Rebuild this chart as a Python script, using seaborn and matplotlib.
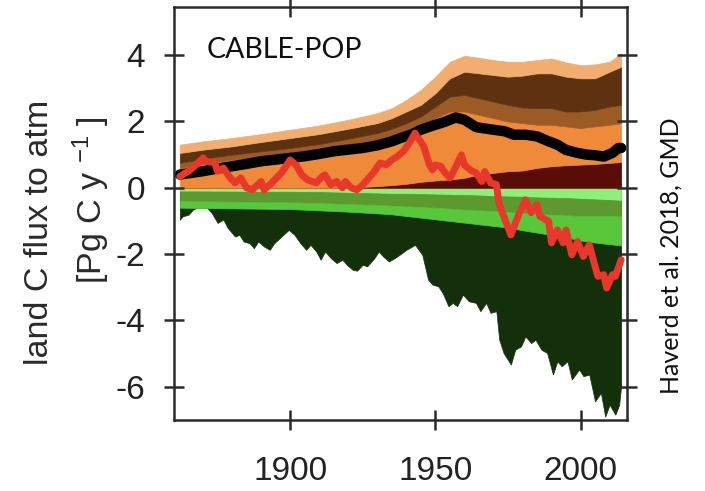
import numpy as np
import matplotlib
matplotlib.use("Agg")
import matplotlib.pyplot as plt
import seaborn as sns

# ---------------- data ----------------
years = [1862, 1870, 1880, 1890, 1900, 1910, 1920, 1930, 1935, 1940, 1945, 1950,
         1955, 1960, 1965, 1970, 1975, 1980, 1985, 1990, 1995, 2000, 2005, 2010, 2014]

# positive (source) layers, stacked from 0 upward
maroon = [0, 0, 0, 0, 0, 0, 0, 0.05, 0.08, 0.12, 0.18, 0.22, 0.25, 0.3, 0.4, 0.45,
          0.5, 0.52, 0.6, 0.65, 0.68, 0.7, 0.72, 0.75, 0.78]
orange = [0.6, 0.72, 0.85, 0.92, 1.0, 1.12, 1.3, 1.4, 1.5, 1.63, 1.72, 1.88, 2.05,
          2.0, 1.8, 1.65, 1.5, 1.43, 1.3, 1.25, 1.17, 1.1, 1.13, 1.15, 1.17]
med_brown = [0.15, 0.16, 0.15, 0.18, 0.2, 0.2, 0.18, 0.2, 0.2, 0.2, 0.25, 0.35, 0.45,
             0.5, 0.5, 0.5, 0.5, 0.47, 0.5, 0.5, 0.45, 0.5, 0.5, 0.55, 0.55]
dark_brown = [0.3, 0.27, 0.25, 0.28, 0.3, 0.3, 0.3, 0.3, 0.32, 0.35, 0.35, 0.4, 0.55,
              0.7, 0.75, 0.8, 0.85, 0.96, 1.05, 1.05, 1.05, 1.0, 0.95, 1.05, 1.15]
light_orange = [0.25, 0.25, 0.25, 0.24, 0.25, 0.26, 0.27, 0.3, 0.3, 0.35, 0.45, 0.5,
                0.5, 0.48, 0.47, 0.45, 0.45, 0.42, 0.4, 0.45, 0.43, 0.4, 0.42, 0.3, 0.4]

# sink layers (magnitudes), stacked from 0 downward
light_green = [0.11, 0.11, 0.115, 0.12, 0.12, 0.13, 0.15, 0.17, 0.18, 0.18, 0.19, 0.2,
               0.21, 0.22, 0.23, 0.25, 0.26, 0.27, 0.29, 0.3, 0.31, 0.33, 0.35, 0.37, 0.39]
olive_green = [0.29, 0.30, 0.305, 0.31, 0.32, 0.33, 0.34, 0.35, 0.36, 0.38, 0.39, 0.4,
               0.42, 0.44, 0.45, 0.45, 0.47, 0.49, 0.5, 0.51, 0.52, 0.52, 0.5, 0.48, 0.47]
bright_green = [0.2, 0.2, 0.2, 0.2, 0.2, 0.22, 0.23, 0.25, 0.26, 0.29, 0.32, 0.35, 0.37,
                0.39, 0.42, 0.45, 0.47, 0.52, 0.56, 0.61, 0.66, 0.74, 0.8, 0.85, 0.88]

# total sink (bottom of dark green area)
dg_years = [1862, 1863, 1865, 1866.5, 1868, 1870, 1871.5, 1873, 1875, 1877, 1878.5, 1881,
            1882.5, 1884, 1886, 1887.5, 1889, 1891, 1893, 1894.5, 1897, 1899.5, 1901.5,
            1903.5, 1905.5, 1907, 1909, 1910.5, 1912, 1914, 1916, 1918, 1919.5, 1921.5,
            1923, 1925, 1926.5, 1929, 1930.5, 1932, 1934, 1936, 1938, 1940, 1943,
            1945.5, 1947.5, 1949, 1951, 1952.5, 1954.5, 1956, 1957.5, 1959.5, 1961.5,
            1964, 1965.5, 1967.5, 1969, 1971, 1972, 1973.5, 1976, 1977.5, 1979.5, 1981,
            1983, 1984.5, 1986.5, 1988.5, 1990.5, 1992, 1993.5, 1995.5, 1997, 1999.5,
            2001, 2003, 2005, 2007, 2008.5, 2010, 2012, 2013.3, 2014]
dg_bottom = [-0.96, -0.86, -0.81, -0.66, -0.6, -0.6, -0.62, -0.76, -1.06, -0.96, -1.21,
             -1.47, -1.42, -1.62, -1.67, -1.82, -1.62, -1.77, -1.87, -1.67, -1.47, -1.27,
             -1.42, -1.67, -1.87, -1.72, -1.92, -2.17, -1.92, -2.12, -2.27, -2.17, -2.32,
             -2.47, -2.5, -2.32, -2.37, -2.12, -1.92, -2.07, -2.22, -2.12, -2.0, -1.87,
             -1.72, -2.02, -2.77, -2.92, -2.97, -3.17, -3.57, -3.47, -3.57, -3.22, -3.42,
             -3.47, -3.72, -3.47, -3.77, -3.72, -4.58, -4.98, -5.33, -4.88, -4.78, -4.48,
             -4.68, -4.58, -4.88, -4.98, -5.63, -5.23, -5.38, -5.23, -5.78, -5.48, -5.68,
             -5.63, -6.44, -6.18, -6.9, -6.54, -6.84, -6.54, -5.95]

# net flux (black line)
net_years = [1862, 1866, 1870, 1875, 1880, 1885, 1890, 1895, 1900, 1905, 1910, 1915,
             1920, 1925, 1930, 1935, 1938, 1942, 1945, 1949, 1953, 1957, 1960, 1964,
             1966, 1970, 1974, 1977, 1981, 1985, 1989, 1992, 1995, 1999, 2002, 2005,
             2008, 2011, 2013, 2014]
net_flux = [0.4, 0.45, 0.5, 0.58, 0.65, 0.72, 0.8, 0.85, 0.9, 0.95, 1.02, 1.1, 1.15,
            1.2, 1.28, 1.4, 1.5, 1.62, 1.75, 1.87, 1.98, 2.12, 2.05, 1.83, 1.8, 1.75,
            1.7, 1.6, 1.6, 1.55, 1.4, 1.3, 1.14, 1.05, 1.0, 0.98, 0.94, 1.05, 1.2, 1.2]

# residual flux (red line)
red_years = [1862, 1864, 1865, 1867, 1870, 1871, 1874, 1875, 1877, 1879, 1881, 1883,
             1885, 1887, 1890, 1891, 1893, 1897, 1900, 1902, 1904, 1906, 1909, 1911,
             1912, 1914, 1916, 1918, 1919, 1921, 1923, 1925, 1926, 1929, 1931, 1933,
             1935, 1937, 1939, 1941, 1943, 1944, 1945, 1946, 1948, 1949, 1950, 1952,
             1953, 1955, 1956, 1959, 1960, 1962, 1964, 1966, 1967, 1969, 1971, 1972,
             1974, 1976, 1978, 1979, 1981, 1983, 1985, 1986, 1989, 1990, 1992, 1994,
             1995, 1997, 1999, 2001, 2003, 2005, 2006, 2008, 2009, 2011, 2012, 2014]
red_flux = [0.34, 0.45, 0.5, 0.64, 0.9, 0.8, 0.75, 0.5, 0.6, 0.34, 0.15, 0.3, 0.0,
            -0.06, 0.19, -0.06, 0.09, 0.45, 0.84, 0.69, 0.39, 0.24, 0.15, 0.34, 0.39,
            0.09, 0.19, 0.0, 0.19, 0.0, -0.06, 0.09, 0.19, 0.49, 0.75, 0.69, 0.84, 0.95,
            1.1, 1.35, 1.65, 1.5, 1.39, 1.24, 0.69, 0.54, 0.69, 0.64, 0.49, 0.3, 0.45,
            0.99, 0.69, 0.54, 0.45, 0.19, 0.49, 0.15, 0.1, -0.5, -0.96, -1.42, -0.96,
            -0.75, -0.36, -0.75, -0.51, -0.86, -1.01, -1.66, -1.27, -1.66, -1.27, -2.02,
            -1.62, -2.07, -1.72, -2.37, -2.67, -2.62, -3.02, -2.62, -2.67, -2.17]

x_ticks = [1900, 1950, 2000]
y_ticks = [4, 2, 0, -2, -4, -6]

# ---------------- style ----------------
sns.set_theme(style="ticks")
plt.rcParams["font.family"] = ["Liberation Sans", "DejaVu Sans"]
plt.rcParams["mathtext.default"] = "regular"
plt.rcParams["axes.unicode_minus"] = False

c_pos = ["#5a0c07", "#ef8a3a", "#9c5a25", "#5e3210", "#f1ae70"]
c_neg = ["#8df07a", "#5c9a30", "#58c83a"]
c_dark = "#14300a"
ink = "#2b2b2b"

fig = plt.figure(figsize=(7.05, 4.91), dpi=100)
ax = fig.add_axes([174 / 705, 1 - 420 / 491, (627 - 174) / 705, (420 - 7) / 491])

# dark green total sink area
ax.fill_between(dg_years, 0, dg_bottom, color=c_dark, lw=0.5, edgecolor=c_dark, zorder=1)

# sink layers stacked downward
neg = ax.stackplot(years, -np.array(light_green), -np.array(olive_green),
                   -np.array(bright_green), colors=c_neg, zorder=2)
pos = ax.stackplot(years, maroon, orange, med_brown, dark_brown, light_orange,
                   colors=c_pos, zorder=2)
for p in list(neg) + list(pos):
    p.set_edgecolor("face")
    p.set_linewidth(0.5)

sns.lineplot(x=net_years, y=net_flux, color="black", linewidth=7.5, ax=ax, zorder=4)
sns.lineplot(x=red_years, y=red_flux, color="#e8372b", linewidth=5.0, ax=ax, zorder=5)

ax.set_xlim(1860, 2016)
ax.set_ylim(-7.0, 5.45)
ax.set_xticks(x_ticks)
ax.set_yticks(y_ticks)
ax.set_xticklabels([str(v) for v in x_ticks])
ax.set_yticklabels([str(v) for v in y_ticks])
ax.set_xlabel("")
ax.set_ylabel("")

for s in ax.spines.values():
    s.set_visible(True)
    s.set_color(ink)
    s.set_linewidth(1.8)
    s.set_zorder(10)

ax.tick_params(axis="both", which="major", direction="inout", length=14, width=1.8,
               color=ink, top=True, right=True, labelsize=24, labelcolor="#222222")
ax.tick_params(axis="y", pad=14)
ax.tick_params(axis="x", pad=19)
ax.xaxis.set_zorder(10)
ax.yaxis.set_zorder(10)

# texts
fig.text(207 / 705, 1 - 58 / 491, "CABLE-POP", family=["Lato", "DejaVu Sans"],
         fontsize=20.5, color="#111111", ha="left", va="baseline")
fig.text(40 / 705, 1 - 232 / 491, "land C flux to atm", rotation=90, fontsize=24.5,
         color="#2a2a2a", ha="center", va="center")
fig.text(91 / 705, 1 - 200 / 491, r"[Pg C y $^{-1}$ ]", rotation=90, fontsize=24.5,
         color="#2a2a2a", ha="center", va="center")
fig.text(671 / 705, 1 - 256 / 491, "Haverd et al. 2018, GMD", rotation=90,
         family=["Lato", "DejaVu Sans"], fontsize=18, color="#111111",
         ha="center", va="center")

fig.savefig("out.png", dpi=100)
